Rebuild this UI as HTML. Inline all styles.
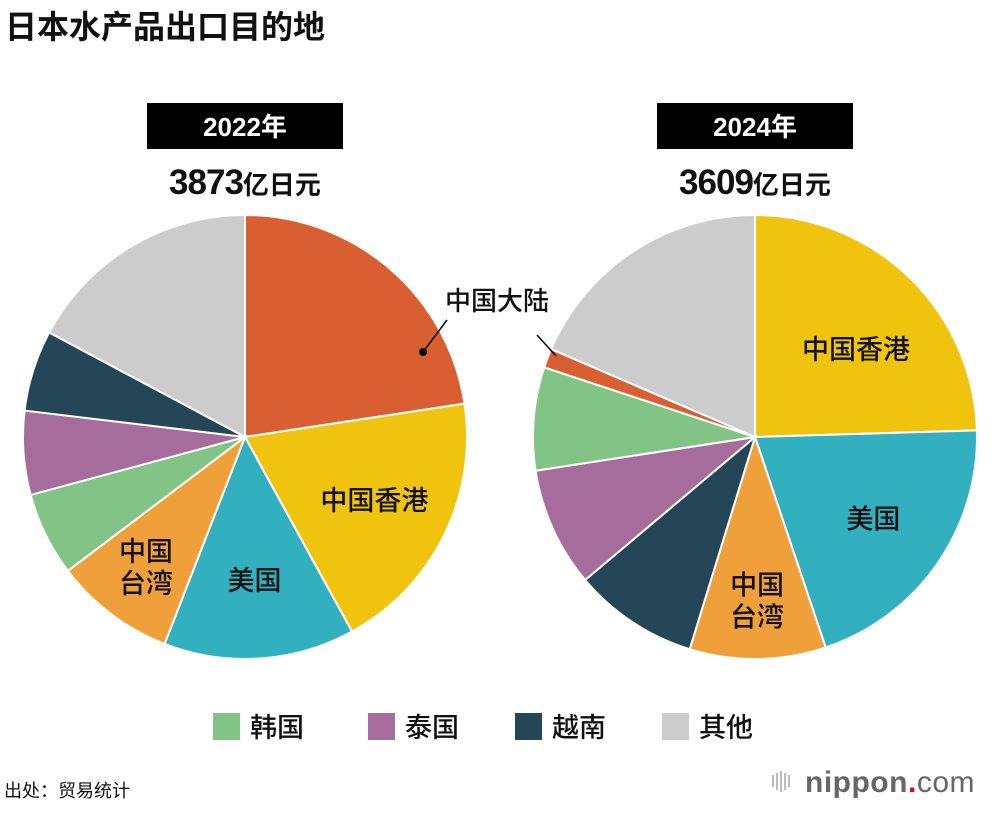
<!DOCTYPE html>
<html><head><meta charset="utf-8">
<style>
body{margin:0;background:#fff;width:1000px;height:810px;overflow:hidden;font-family:"Liberation Sans","Noto Sans CJK SC",sans-serif;}
</style></head>
<body>
<svg id="chart" width="1000" height="810" xmlns="http://www.w3.org/2000/svg" font-family="Liberation Sans, Noto Sans CJK SC, sans-serif">
<text x="5" y="38" font-size="32" font-weight="bold" fill="#111">日本水产品出口目的地</text>
<rect x="147" y="103" width="196" height="46" fill="#000"/>
<text x="245" y="136" font-size="26" font-weight="bold" fill="#fff" text-anchor="middle">2022年</text>
<rect x="657" y="103" width="196" height="46" fill="#000"/>
<text x="755" y="136" font-size="26" font-weight="bold" fill="#fff" text-anchor="middle">2024年</text>
<text x="245" y="194" text-anchor="middle" fill="#111" font-weight="bold"><tspan font-size="35" letter-spacing="-1">3873</tspan><tspan font-size="26">亿日元</tspan></text>
<text x="755" y="194" text-anchor="middle" fill="#111" font-weight="bold"><tspan font-size="35" letter-spacing="-1">3609</tspan><tspan font-size="26">亿日元</tspan></text>
<g id="pies"></g>
<line x1="423" y1="352" x2="447" y2="320" stroke="#000" stroke-width="1.5"/>
<circle cx="423" cy="352" r="4" fill="#000"/>
<text x="497" y="310" font-size="26" font-weight="500" text-anchor="middle" fill="#111">中国大陆</text>
<line x1="556" y1="356" x2="537" y2="335" stroke="#000" stroke-width="1.5"/>
<g id="legend"></g>
<text x="4" y="797" font-size="18" fill="#111">出处：贸易统计</text>
<g>
<g fill="#bbb"><rect x="772" y="775" width="2" height="12"/><rect x="776" y="773" width="2" height="17"/><rect x="780" y="771" width="2" height="21"/><rect x="784" y="773" width="2" height="17"/><rect x="788" y="775" width="2" height="12"/></g>
<text x="805" y="792" font-size="30" fill="#666" font-weight="bold" letter-spacing="0.5">nippon<tspan fill="#e60012">.</tspan><tspan font-weight="normal">com</tspan></text>
</g>
</svg>
<script>
const categories=["中国大陆","中国香港","美国","中国台湾","越南","泰国","韩国","其他"];
const colors=["#d95f32","#f0c30f","#33b0c0","#f0a03a","#254656","#a66c9c","#82c486","#cccccc"];
const order2022=[0,1,2,3,6,5,4,7];
const values2022=[22.6,19.4,13.9,8.8,6.1,6.1,5.9,17.2];
const order2024=[1,2,3,4,5,6,0,7];
const values2024=[24.5,20.3,9.9,9.1,8.7,7.5,1.4,18.5];
const legendCats=[6,5,4,7];
const NS="http://www.w3.org/2000/svg";
const pies=document.getElementById('pies');
function drawPie(cx,cy,r,order,vals,year){
  const tot=vals.reduce((a,b)=>a+b,0);let a0=0;
  vals.forEach((v,i)=>{
    const a1=a0+v/tot*2*Math.PI;
    const p=(a)=>[cx+r*Math.sin(a),cy-r*Math.cos(a)];
    const [x0,y0]=p(a0),[x1,y1]=p(a1);
    const path=document.createElementNS(NS,'path');
    path.setAttribute('d',`M${cx},${cy}L${x0},${y0}A${r},${r} 0 ${a1-a0>Math.PI?1:0} 1 ${x1},${y1}Z`);
    path.setAttribute('fill',colors[order[i]]);
    path.setAttribute('stroke','#fff');path.setAttribute('stroke-width','2');
    
    
    pies.appendChild(path);
    const c=order[i];
    if(c>=1&&c<=3){
      let m=(a0+a1)/2,lr=r*(c===3?0.74:0.65);
      if(year===2024&&c===1){lr=r*0.6;m+=0.09;}
      const lx=cx+lr*Math.sin(m),ly=cy-lr*Math.cos(m);
      const lines=c===3?["中国","台湾"]:[categories[c]];
      lines.forEach((t,k)=>{
        const tx=document.createElementNS(NS,'text');
        tx.setAttribute('x',lx);tx.setAttribute('y',ly+9+(k-(lines.length-1)/2)*32);
        tx.setAttribute('font-size','27');tx.setAttribute('font-weight','500');tx.setAttribute('text-anchor','middle');tx.setAttribute('fill','#111');
        tx.textContent=t;
        
        
        pies.appendChild(tx);
      });
    }
    a0=a1;
  });
}
drawPie(245,437,222,order2022,values2022,2022);
drawPie(755,437,222,order2024,values2024,2024);
const lg=document.getElementById('legend');
const lx=[213,368,515,662];
legendCats.forEach((c,i)=>{
  const r=document.createElementNS(NS,'rect');
  r.setAttribute('x',lx[i]);r.setAttribute('y',713);r.setAttribute('width',27);r.setAttribute('height',27);r.setAttribute('fill',colors[c]);
  
  
  lg.appendChild(r);
  const t=document.createElementNS(NS,'text');
  t.setAttribute('x',lx[i]+37);t.setAttribute('y',737);t.setAttribute('font-size','27');t.setAttribute('font-weight','500');t.setAttribute('fill','#111');
  t.textContent=categories[c];
  
  
  lg.appendChild(t);
});
</script>
</body></html>
